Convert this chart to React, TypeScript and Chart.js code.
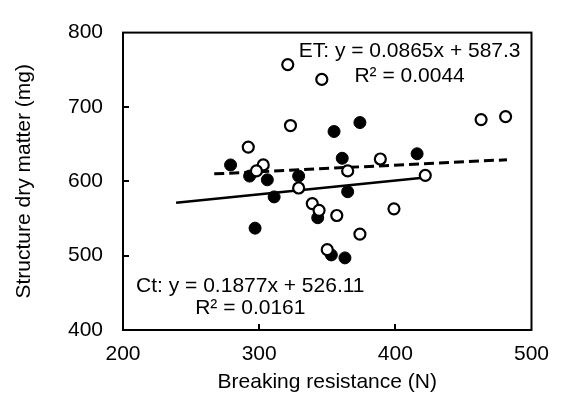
import React, { useEffect, useRef } from "react";
import { Chart, registerables } from "chart.js";

Chart.register(...registerables);

// Breaking resistance (N) and structure dry matter (mg)
const ctX = [279, 293, 306, 329, 355, 374, 361, 416, 311, 365, 343, 297, 363, 353];
const ctY = [622, 607, 602, 607, 667, 679, 631, 637, 579, 586, 551, 537, 497, 501];
const etX = [321, 346, 323, 292, 303, 298, 365, 389, 422, 463, 481, 329, 339, 344, 357, 399, 374, 350];
const etY = [757, 737, 675, 646, 622, 614, 614, 630, 608, 683, 687, 591, 570, 561, 554, 563, 529, 508];

// Trend line end points
const ctTrendX = [239, 422];
const ctTrendY = [571, 605];
const etTrendX = [267, 482];
const etTrendY = [610, 629];

const xTicks = [200, 300, 400, 500];
const yTicks = [400, 500, 600, 700, 800];

const etLabel = ["ET: y = 0.0865x + 587.3", "R\u00b2 = 0.0044"];
const etLabelAt = { x: 410.5, y: [775, 742] };
const ctLabel = ["Ct: y = 0.1877x + 526.11", "R\u00b2 = 0.0161"];
const ctLabelAt = { x: 293.5, y: [459, 429] };

const FONT = "'Liberation Sans', Arial, sans-serif";

const toPts = (xs: number[], ys: number[]) => xs.map((x, i) => ({ x, y: ys[i] }));

export default function App() {
  const ref = useRef<HTMLCanvasElement | null>(null);

  useEffect(() => {
    if (!ref.current) return;

    const framePlugin = {
      id: "frame",
      afterDraw(chart: any) {
        const { ctx, chartArea: a, scales } = chart;
        ctx.save();
        ctx.strokeStyle = "#000";
        ctx.lineWidth = 2;
        ctx.strokeRect(a.left, a.top, a.right - a.left, a.bottom - a.top);
        ctx.lineWidth = 2;
        ctx.beginPath();
        yTicks.slice(1, -1).forEach((v) => {
          const py = Math.round(scales.y.getPixelForValue(v));
          ctx.moveTo(a.left, py);
          ctx.lineTo(a.left + 6, py);
        });
        xTicks.slice(1, -1).forEach((v) => {
          const px = Math.round(scales.x.getPixelForValue(v));
          ctx.moveTo(px, a.bottom);
          ctx.lineTo(px, a.bottom - 6);
        });
        ctx.stroke();

        ctx.fillStyle = "#000";
        ctx.font = `21px ${FONT}`;
        ctx.textAlign = "center";
        ctx.textBaseline = "middle";
        const drawLabel = (lines: string[], at: { x: number; y: number[] }) => {
          const px = scales.x.getPixelForValue(at.x);
          lines.forEach((t, i) => {
            ctx.fillText(t, px, scales.y.getPixelForValue(at.y[i]));
          });
        };
        drawLabel(etLabel, etLabelAt);
        drawLabel(ctLabel, ctLabelAt);
        ctx.restore();
      },
    };

    const chart = new Chart(ref.current, {
      type: "scatter",
      data: {
        datasets: [
          {
            label: "ET",
            data: toPts(etX, etY),
            pointRadius: 5.5,
            pointBorderWidth: 2.2,
            pointBackgroundColor: "#fff",
            pointBorderColor: "#000",
            order: 1,
          },
          {
            label: "Ct",
            data: toPts(ctX, ctY),
            pointRadius: 6,
            pointBorderWidth: 1,
            pointBackgroundColor: "#000",
            pointBorderColor: "#000",
            order: 2,
          },
          {
            label: "ET trend",
            data: toPts(etTrendX, etTrendY),
            showLine: true,
            pointRadius: 0,
            borderColor: "#000",
            borderWidth: 3,
            borderDash: [10, 5],
            order: 3,
          },
          {
            label: "Ct trend",
            data: toPts(ctTrendX, ctTrendY),
            showLine: true,
            pointRadius: 0,
            borderColor: "#000",
            borderWidth: 2.5,
            order: 3,
          },
        ],
      },
      options: {
        animation: false,
        responsive: false,
        layout: { padding: { top: 13, right: 27, left: 0, bottom: 0 } },
        plugins: { legend: { display: false }, tooltip: { enabled: false } },
        scales: {
          x: {
            type: "linear",
            min: 200,
            max: 500,
            afterBuildTicks: (s: any) => {
              s.ticks = xTicks.map((v) => ({ value: v }));
            },
            afterFit: (s: any) => {
              s.height = 71;
            },
            grid: { display: false, drawTicks: false },
            border: { display: false },
            ticks: { color: "#000", font: { size: 21, family: FONT }, padding: 12, maxRotation: 0 },
            title: {
              display: true,
              text: "Breaking resistance (N)",
              color: "#000",
              font: { size: 21, family: FONT },
              padding: { top: 0, bottom: 6 },
            },
          },
          y: {
            type: "linear",
            min: 400,
            max: 800,
            afterBuildTicks: (s: any) => {
              s.ticks = yTicks.map((v) => ({ value: v }));
            },
            afterFit: (s: any) => {
              s.width = 123;
            },
            grid: { display: false, drawTicks: false },
            border: { display: false },
            ticks: { color: "#000", font: { size: 21, family: FONT }, padding: 20 },
            title: {
              display: true,
              text: "Structure dry matter (mg)",
              color: "#000",
              font: { size: 21, family: FONT },
              padding: { top: 12, bottom: 0 },
            },
          },
        },
      },
      plugins: [framePlugin],
    });

    return () => chart.destroy();
  }, []);

  return (
    <div style={{ position: "absolute", left: 0, top: 0, width: 561, height: 401, background: "#fff" }}>
      <canvas ref={ref} width={561} height={401} />
    </div>
  );
}
